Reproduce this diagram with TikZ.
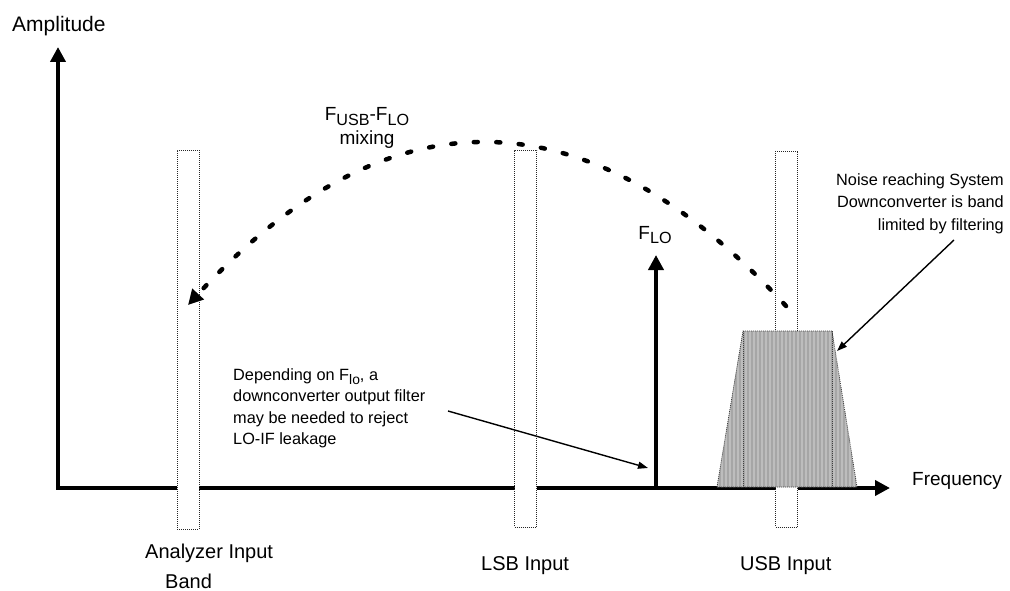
\documentclass[tikz,border=0pt]{standalone}
\usepackage{fontspec}
\setmainfont{Liberation Sans}
\usetikzlibrary{arrows.meta}
\newcommand\fsz[2]{\fontsize{#1}{#2}\selectfont}
\newcommand\sbs[1]{\raisebox{-0.25em}{\scalebox{0.85}{#1}}}
\begin{document}
\begin{tikzpicture}[x=1pt,y=-1pt,
  axisline/.style={line width=4pt,line join=miter},
  bigtip/.style={-{Triangle[length=15pt,width=15pt]}},
  band/.style={draw=black!85,fill=white,line width=0.8pt,dash pattern=on 1pt off 1pt,inner sep=0pt,minimum width=22pt},
  edge dots/.style={draw=black!75,line width=0.8pt,dash pattern=on 1pt off 1pt},
  mixcurve/.style={line width=4.5pt,line cap=round,dash pattern=on 4pt off 18.5pt,-{Triangle[length=15pt,width=15pt]}},
  leader/.style={line width=1.4pt,-{Triangle[length=10pt,width=7pt]}},
  lbl/.style={inner sep=0pt,font=\fsz{20}{24}},
]
\useasboundingbox (0,0) rectangle (1010,591);

% axes
\coordinate (O) at (58,488);
\coordinate (ytip) at (58,47);
\coordinate (xtip) at (890,488);
\draw[axisline,{Triangle[length=15pt,width=15pt]}-{Triangle[length=15pt,width=15pt]}] (ytip) -- (O) -- (xtip);

% input bands
\node[band,minimum height=379pt] (anaband) at (188,339.5) {};
\node[band,minimum height=377pt] (lsbband) at (525.5,338.5) {};
\node[band,minimum height=376pt] (usbband) at (786.5,339) {};

% noise trapezoid
\coordinate (t1) at (717,487);
\coordinate (t2) at (743,331);
\coordinate (t3) at (832,331);
\coordinate (t4) at (857,487);
\begin{scope}
  \clip (t1) -- (t2) -- (t3) -- (t4) -- cycle;
  \fill[black!35] (t1) -- (t2) -- (t3) -- (t4) -- cycle;
  \foreach \x in {718,722,...,858}
    \draw[black!26,line width=2pt] (\x,320) -- (\x,495);
\end{scope}
\draw[edge dots] (t1) -- (t2) -- (t3) -- (t4) -- cycle;
\draw[edge dots] (t2) -- (t2 |- t1);
\draw[edge dots] (t3) -- (t3 |- t1);

% F_LO spectral line
\coordinate (lobase) at (656,488);
\coordinate (lotip) at (656,255);
\draw[line width=4pt,bigtip] (lobase) -- (lotip);
\node[lbl,anchor=base,font=\fsz{19}{22}] (flo) at (655,239) {F\sbs{LO}};

% mixing curve
\coordinate (mixS) at (786,306);
\coordinate (mixE) at (188,305);
\draw[mixcurve] (mixS) .. controls (586.7,89.3) and (387.3,89) .. (mixE);
\node[lbl,anchor=north,align=center,font=\fsz{19}{24}] (mixlbl) at (367,107.5)
  {F\sbs{USB}-F\sbs{LO}\\mixing};

% annotations
\node[lbl,anchor=north west,align=left,font=\fsz{16.3}{21.5}] (dep) at (233,368)
  {Depending on F\sbs{lo}, a\\downconverter output filter\\may be needed to reject\\LO-IF leakage};
\coordinate (depS) at (448,411);
\coordinate (depE) at (648,468);
\draw[leader] (depS) -- (depE);

\node[lbl,anchor=north east,align=right,font=\fsz{16.3}{22.5}] (noise) at (1004,173)
  {Noise reaching System\\Downconverter is band\\limited by filtering};
\coordinate (noiS) at (954,240);
\coordinate (noiE) at (837,351);
\draw[leader] (noiS) -- (noiE);

% axis labels
\node[lbl,anchor=base west,font=\fsz{21}{24}] (amp) at (12,32) {Amplitude};
\node[lbl,anchor=base west,font=\fsz{19}{22}] (freq) at (912,485) {Frequency};
\node[lbl,anchor=base west] (analbl) at (145,558) {Analyzer Input};
\node[lbl,anchor=base west] (bandlbl) at (165,588) {Band};
\node[lbl,anchor=base west] (lsblbl) at (481,570) {LSB Input};
\node[lbl,anchor=base west] (usblbl) at (740,570) {USB Input};
\end{tikzpicture}
\end{document}
